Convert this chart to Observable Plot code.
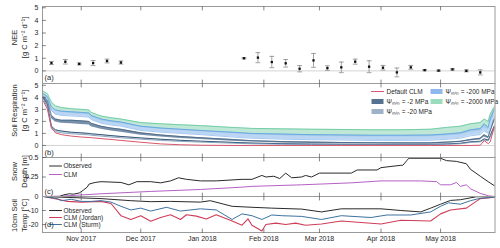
<!DOCTYPE html>
<html><head><meta charset="utf-8">
<script src="https://cdn.jsdelivr.net/npm/d3@7"></script>
<script src="https://cdn.jsdelivr.net/npm/@observablehq/plot@0.6"></script>
<style>
body{margin:0;background:#fff;}
#chart{position:relative;width:500px;height:248px;}
#chart svg{position:absolute;left:0;top:0;overflow:visible;}
</style></head><body><div id="chart"></div>
<script>
// ---------- data ----------
const monthTicks = ["2017-11-01","2017-12-01","2018-01-01","2018-02-01","2018-03-01","2018-04-01","2018-05-01"];

// (a) NEE weekly means with error bars
const neeDates = ["2017-10-17","2017-10-24","2017-10-31","2017-11-07","2017-11-14","2017-11-21","2018-01-22","2018-01-29","2018-02-05","2018-02-12","2018-02-19","2018-02-26","2018-03-05","2018-03-12","2018-03-19","2018-03-26","2018-04-02","2018-04-09","2018-04-16","2018-04-23","2018-04-30","2018-05-07","2018-05-14","2018-05-21"];
const neeValues = [0.62,0.72,0.55,0.62,0.78,0.66,1.0,1.05,0.7,0.6,0.17,0.83,0.22,0.28,0.73,0.33,0.25,-0.12,0.28,0.06,0.02,0.12,0.0,-0.12];
const neeErrors = [0.12,0.18,0.08,0.2,0.15,0.12,0.05,0.4,0.45,0.3,0.25,0.55,0.18,0.42,0.2,0.47,0.18,0.35,0.15,0.05,0.05,0.06,0.08,0.2];

// (b) soil respiration
const respDates = ["2017-10-13","2017-10-15","2017-10-17","2017-10-19","2017-10-22","2017-10-27","2017-11-01","2017-11-05","2017-11-06","2017-11-11","2017-11-16","2017-11-21","2017-12-01","2017-12-11","2017-12-21","2017-12-31","2018-01-16","2018-01-26","2018-02-10","2018-02-25","2018-03-12","2018-03-27","2018-04-11","2018-04-26","2018-05-04","2018-05-11","2018-05-16","2018-05-21","2018-05-23","2018-05-25","2018-05-26","2018-05-28"];
const respDefault = [3.65,3.0,1.5,1.05,0.9,0.78,0.7,0.66,0.65,0.57,0.5,0.42,0.27,0.13,0.06,0.02,0,0,0,0,0,0,0,0,0,0,0,0.02,0.4,0.15,0.3,1.5];
const psi2Hi = [4.05,3.7,2.5,2.2,2.1,2.1,2.05,2.0,1.85,1.6,1.45,1.35,1.05,0.88,0.75,0.65,0.5,0.4,0.32,0.28,0.25,0.23,0.22,0.22,0.28,0.35,0.5,0.6,0.9,0.7,1.2,2.2];
const psi2Lo = [3.85,3.5,2.25,1.95,1.85,1.8,1.75,1.7,1.55,1.35,1.2,1.1,0.85,0.7,0.58,0.5,0.36,0.28,0.2,0.17,0.15,0.14,0.13,0.13,0.18,0.25,0.38,0.45,0.7,0.55,1.0,1.9];
const psi20Hi = [3.95,3.4,1.6,1.3,1.2,1.1,1.05,1.0,0.97,0.9,0.82,0.75,0.63,0.52,0.43,0.36,0.26,0.2,0.15,0.12,0.1,0.1,0.1,0.1,0.13,0.18,0.3,0.35,0.55,0.45,0.8,1.6];
const psi20Lo = [3.8,3.2,1.4,1.15,1.05,0.97,0.92,0.88,0.85,0.78,0.7,0.64,0.52,0.42,0.34,0.28,0.19,0.14,0.1,0.08,0.07,0.07,0.07,0.07,0.1,0.14,0.25,0.3,0.45,0.38,0.7,1.4];
const psi200Hi = [4.3,4.05,3.2,2.95,2.85,2.8,2.75,2.7,2.5,2.2,2.05,1.95,1.6,1.45,1.35,1.25,1.1,1.0,0.95,0.9,0.88,0.85,0.85,0.87,0.95,1.05,1.3,1.4,1.8,1.5,2.2,3.0];
const psi200Lo = [4.0,3.8,2.9,2.6,2.5,2.45,2.4,2.35,2.15,1.85,1.7,1.6,1.25,1.1,1.0,0.9,0.7,0.6,0.52,0.48,0.45,0.42,0.42,0.43,0.5,0.6,0.8,0.9,1.2,1.0,1.6,2.4];
const psi2000Hi = [4.5,4.3,3.6,3.3,3.15,3.05,3.0,2.95,2.75,2.45,2.3,2.2,1.9,1.8,1.72,1.65,1.5,1.42,1.38,1.35,1.33,1.3,1.3,1.35,1.5,1.6,1.8,1.9,2.2,2.0,2.6,3.2];
const psi2000Lo = [4.2,3.9,3.2,2.9,2.75,2.65,2.6,2.55,2.35,2.05,1.9,1.8,1.5,1.35,1.25,1.15,1.0,0.9,0.8,0.75,0.72,0.7,0.7,0.72,0.8,0.9,1.1,1.2,1.5,1.3,1.9,2.5];

// (c) snow depth
const snowObsDates = ["2017-10-13","2017-10-20","2017-10-21","2017-10-23","2017-10-26","2017-10-28","2017-10-31","2017-11-02","2017-11-04","2017-11-05","2017-11-08","2017-11-11","2017-11-16","2017-11-21","2017-11-25","2017-11-29","2017-12-06","2017-12-11","2017-12-16","2017-12-20","2017-12-24","2017-12-31","2018-01-08","2018-01-21","2018-01-26","2018-01-31","2018-02-02","2018-02-06","2018-02-09","2018-02-12","2018-02-15","2018-02-20","2018-02-22","2018-02-25","2018-03-01","2018-03-17","2018-03-20","2018-03-30","2018-04-01","2018-04-11","2018-04-12","2018-04-14","2018-04-15","2018-05-01","2018-05-04","2018-05-09","2018-05-14","2018-05-16","2018-05-21","2018-05-25","2018-05-28"];
const snowObs = [0,0,0,0.02,0.035,0.03,0.045,0.08,0.12,0.16,0.18,0.19,0.185,0.18,0.15,0.19,0.19,0.175,0.2,0.24,0.22,0.2,0.2,0.22,0.22,0.27,0.25,0.26,0.23,0.3,0.24,0.25,0.27,0.25,0.3,0.3,0.34,0.34,0.37,0.4,0.4,0.46,0.49,0.49,0.46,0.45,0.42,0.35,0.26,0.19,0.14];
const snowClmDates = ["2017-10-13","2017-10-22","2017-11-11","2017-12-06","2017-12-31","2018-01-21","2018-01-26","2018-02-20","2018-03-02","2018-03-17","2018-04-01","2018-04-21","2018-04-29","2018-05-01","2018-05-06","2018-05-09","2018-05-11","2018-05-14","2018-05-16","2018-05-21","2018-05-25","2018-05-28"];
const snowClm = [0,0.005,0.035,0.065,0.09,0.12,0.13,0.15,0.16,0.175,0.2,0.2,0.19,0.15,0.15,0.18,0.13,0.15,0.1,0.04,0.01,0];

// (d) 10 cm soil temperature
const tObsDates = ["2017-10-13","2017-10-22","2017-11-01","2017-11-11","2017-11-26","2017-12-06","2017-12-16","2017-12-31","2018-01-05","2018-01-16","2018-01-26","2018-02-05","2018-02-20","2018-03-02","2018-03-12","2018-04-01","2018-04-11","2018-04-21","2018-04-26","2018-05-01","2018-05-06","2018-05-11","2018-05-19","2018-05-28"];
const tObs = [0,-0.5,-1,-1.5,-3,-3.7,-3.5,-4,-3,-7,-7.7,-8.3,-9,-11,-8.8,-8.8,-10,-11,-8.3,-5.5,-2.8,-2.3,-0.2,0];
const tSturmDates = ["2017-10-13","2017-10-20","2017-10-22","2017-10-27","2017-11-01","2017-11-06","2017-11-11","2017-11-16","2017-11-21","2017-11-26","2017-12-01","2017-12-06","2017-12-14","2017-12-21","2017-12-31","2018-01-08","2018-01-16","2018-01-21","2018-01-26","2018-01-31","2018-02-05","2018-02-10","2018-02-20","2018-03-02","2018-03-12","2018-03-27","2018-04-04","2018-04-16","2018-04-26","2018-05-01","2018-05-05","2018-05-11","2018-05-16","2018-05-21","2018-05-28"];
const tSturm = [0,-1.5,-3,-2,-3.5,-3.5,-3,-4,-7,-9.6,-8.3,-10.4,-7.7,-10.4,-8.8,-9.6,-16.4,-12.4,-13.7,-16.4,-13.2,-13.7,-14.2,-16.4,-13.7,-15,-13.2,-13.2,-11,-7,-4.5,-5.5,-3,-1.3,-0.5];
const tJordanDates = ["2017-10-13","2017-10-20","2017-10-25","2017-11-01","2017-11-11","2017-11-16","2017-11-21","2017-11-26","2017-12-01","2017-12-06","2017-12-11","2017-12-16","2017-12-21","2017-12-24","2017-12-29","2018-01-03","2018-01-08","2018-01-16","2018-01-21","2018-01-24","2018-01-26","2018-01-31","2018-02-02","2018-02-07","2018-02-12","2018-02-17","2018-02-22","2018-03-02","2018-03-12","2018-04-01","2018-04-11","2018-04-26","2018-05-01","2018-05-06","2018-05-14","2018-05-21","2018-05-28"];
const tJordan = [0,-2,-3.5,-4,-3.5,-5,-13.7,-16.4,-13.7,-17.7,-15,-13,-16.4,-13,-14,-16,-13,-17.5,-20.5,-16,-20.5,-24.6,-20,-19,-20,-19,-20.5,-19.6,-17.5,-19.6,-17,-17.5,-12.4,-9.6,-8.3,-1.5,-0.5];

// ---------- helpers ----------
const parse = s => new Date(s + "T00:00:00Z");
const series = (dates, vals) => dates.map((d, i) => ({date: parse(d), v: vals[i]}));
const band = (dates, lo, hi) => dates.map((d, i) => ({date: parse(d), lo: lo[i], hi: hi[i]}));
const W = 500, H = 248;
const xDomain = [new Date("2017-10-12T12:00:00Z"), new Date("2018-05-28T10:00:00Z")];
const months = monthTicks.map(parse);
const txt = "#262626";
const frameColor = "#9a9a9a";
const tickShape = {draw(ctx, l) { ctx.moveTo(0, 0); ctx.lineTo(0, -l); }};
const rectShape = {draw(ctx) { ctx.rect(-6, -2.5, 12, 5); }};
const segShape = {draw(ctx) { ctx.moveTo(-6, 0); ctx.lineTo(6, 0); }};

const legLine = (color, dx, dy) => Plot.vector([0], {frameAnchor: "top-left", dx, dy, length: 1, anchor: "start", shape: segShape, stroke: color, strokeWidth: 1});
const legRect = (color, dx, dy) => Plot.vector([0], {frameAnchor: "top-left", dx, dy, length: 1, anchor: "start", shape: rectShape, fill: color, stroke: "none"});
const legText = (t, dx, dy) => Plot.text([t], {text: d => d, frameAnchor: "top-left", dx, dy, textAnchor: "start", lineAnchor: "middle", fontSize: 6.5, fill: txt});

function panel({top, bottom, yDomain, yTicks, ylabel, labelDy, tag, tagDy, marks, xAxis = false}) {
  const plotMid = (top + bottom) / 2;
  return Plot.plot({
    width: W, height: H,
    marginLeft: 42, marginRight: 5.5, marginTop: top, marginBottom: H - bottom,
    x: {type: "utc", domain: xDomain, ...(xAxis ? {} : {axis: null})},
    y: {domain: yDomain},
    style: {background: "transparent", fontFamily: "'Liberation Sans', Arial, Helvetica, sans-serif", color: txt, overflow: "visible"},
    marks: [
      ...marks,
      Plot.frame({stroke: frameColor, strokeWidth: 1}),
      Plot.axisY(yTicks, {tickSize: 0, tickPadding: 4, fontSize: 7, tickFormat: d => String(d), label: null}),
      Plot.vector(yTicks, {y: d => d, frameAnchor: "left", rotate: 90, anchor: "start", length: 3, shape: tickShape, stroke: "#555", strokeWidth: 0.7}),
      Plot.vector(months, {x: d => d, frameAnchor: "top", rotate: 180, anchor: "start", length: 3.5, shape: tickShape, stroke: "#555", strokeWidth: 0.7}),
      Plot.vector(months, {x: d => d, frameAnchor: "bottom", rotate: 0, anchor: "start", length: 3.5, shape: tickShape, stroke: "#555", strokeWidth: 0.7}),
      Plot.text([ylabel], {text: d => d, frameAnchor: "left", dx: -24, dy: labelDy - plotMid, rotate: -90, textAnchor: "middle", lineAnchor: "middle", lineHeight: 1.35, fontSize: 7.5, fill: txt}),
      Plot.text([tag], {text: d => d, frameAnchor: "bottom-left", dx: 2, dy: tagDy, textAnchor: "start", lineAnchor: "middle", fontSize: 7.5, fill: txt}),
      ...(xAxis ? [Plot.axisX(months, {tickSize: 0, tickPadding: 4, fontSize: 7, tickFormat: d3.utcFormat("%b %Y"), label: null})] : [])
    ]
  });
}

// ---------- panels ----------
const nee = neeDates.map((d, i) => ({date: parse(d), v: neeValues[i], lo: neeValues[i] - neeErrors[i], hi: neeValues[i] + neeErrors[i]}));
const errColor = "#8a8a8a";
const pA = panel({
  top: 6, bottom: 83, yDomain: [-1, 5.1], yTicks: [0, 1, 2, 3, 4, 5],
  ylabel: "NEE\n[g C m⁻² d⁻¹]", labelDy: 37, tag: "(a)", tagDy: -6,
  marks: [
    Plot.ruleY([0], {stroke: "#c8c8c8", strokeWidth: 0.8}),
    Plot.ruleX(nee, {x: "date", y1: "lo", y2: "hi", stroke: errColor, strokeWidth: 0.8}),
    Plot.vector(nee, {x: "date", y: "hi", rotate: 90, anchor: "middle", length: 4, shape: tickShape, stroke: errColor, strokeWidth: 0.8}),
    Plot.vector(nee, {x: "date", y: "lo", rotate: 90, anchor: "middle", length: 4, shape: tickShape, stroke: errColor, strokeWidth: 0.8}),
    Plot.dot(nee, {x: "date", y: "v", symbol: "square", r: 1.3, fill: "#111", stroke: "none"})
  ]
});

const b2000 = band(respDates, psi2000Lo, psi2000Hi);
const b200 = band(respDates, psi200Lo, psi200Hi);
const b20 = band(respDates, psi20Lo, psi20Hi);
const b2 = band(respDates, psi2Lo, psi2Hi);
const cGreen = "#9bdcbf", cBlue = "#8db9ee", cGrey = "#9fb2c7", cDark = "#557391", cRed = "#d9566c";
const pB = panel({
  top: 83, bottom: 157, yDomain: [-1, 5.15], yTicks: [0, 1, 2, 3, 4, 5],
  ylabel: "Soil Respiration\n[g C m⁻² d⁻¹]", labelDy: 110, tag: "(b)", tagDy: -5,
  marks: [
    Plot.ruleY([0], {stroke: "#c8c8c8", strokeWidth: 0.8}),
    Plot.areaY(b2000, {x: "date", y1: "lo", y2: "hi", fill: cGreen, fillOpacity: 0.65}),
    Plot.areaY(b200, {x: "date", y1: "lo", y2: "hi", fill: cBlue, fillOpacity: 0.6}),
    Plot.lineY(b2000, {x: "date", y: "hi", stroke: "#6ccaa2", strokeWidth: 0.9}),
    Plot.lineY(b200, {x: "date", y: "hi", stroke: "#5c9de2", strokeWidth: 0.8}),
    Plot.lineY(b200, {x: "date", y: "lo", stroke: "#6fa8e6", strokeWidth: 0.6}),
    Plot.areaY(b20, {x: "date", y1: "lo", y2: "hi", fill: cGrey, fillOpacity: 0.5}),
    Plot.lineY(b20, {x: "date", y: "hi", stroke: "#24486c", strokeWidth: 0.9}),
    Plot.lineY(b20, {x: "date", y: "lo", stroke: "#7190ae", strokeWidth: 0.8}),
    Plot.areaY(b2, {x: "date", y1: "lo", y2: "hi", fill: cDark, fillOpacity: 0.8}),
    Plot.lineY(b2, {x: "date", y: "hi", stroke: "#3f5f80", strokeWidth: 0.7}),
    Plot.lineY(series(respDates, respDefault), {x: "date", y: "v", stroke: cRed, strokeWidth: 1}),
    legLine(cRed, 335, 8), legText("Default CLM", 344, 8),
    legRect(cDark, 335, 18), legText("Ψₘᵢₙ = -2 MPa", 344, 18),
    legRect(cGrey, 335, 28), legText("Ψₘᵢₙ = -20 MPa", 344, 28),
    legRect(cBlue, 394, 8), legText("Ψₘᵢₙ = -200 MPa", 403, 8),
    legRect(cGreen, 394, 18), legText("Ψₘᵢₙ = -2000 MPa", 403, 18)
  ]
});

const cPurple = "#b561c6";
const pC = panel({
  top: 157, bottom: 196, yDomain: [0, 0.5], yTicks: [0, 0.25, 0.5],
  ylabel: "Snow\nDepth [m]", labelDy: 171, tag: "(c)", tagDy: -5,
  marks: [
    Plot.lineY(series(snowClmDates, snowClm), {x: "date", y: "v", stroke: cPurple, strokeWidth: 1}),
    Plot.lineY(series(snowObsDates, snowObs), {x: "date", y: "v", stroke: "#2a2a2a", strokeWidth: 1}),
    legLine("#2a2a2a", 13, 8.5), legText("Observed", 21, 8.5),
    legLine(cPurple, 13, 17), legText("CLM", 21, 17)
  ]
});

const cJordan = "#cf3d5a", cSturm = "#3d72a0";
const pD = panel({
  top: 196, bottom: 232, yDomain: [-25.7, 0], yTicks: [-20, -10],
  ylabel: "10cm Soil\nTemp [°C]", labelDy: 215, tag: "(d)", tagDy: -7.5, xAxis: true,
  marks: [
    Plot.lineY(series(tJordanDates, tJordan), {x: "date", y: "v", stroke: cJordan, strokeWidth: 1.1}),
    Plot.lineY(series(tSturmDates, tSturm), {x: "date", y: "v", stroke: cSturm, strokeWidth: 1}),
    Plot.lineY(series(tObsDates, tObs), {x: "date", y: "v", stroke: "#2a2a2a", strokeWidth: 1}),
    legLine("#2a2a2a", 13, 14), legText("Observed", 21, 14),
    legLine(cJordan, 13, 21), legText("CLM (Jordan)", 21, 21),
    legLine(cSturm, 13, 28), legText("CLM (Sturm)", 21, 28)
  ]
});

const chart = document.getElementById("chart");
[pA, pB, pC, pD].forEach(p => chart.appendChild(p));
</script></body></html>
